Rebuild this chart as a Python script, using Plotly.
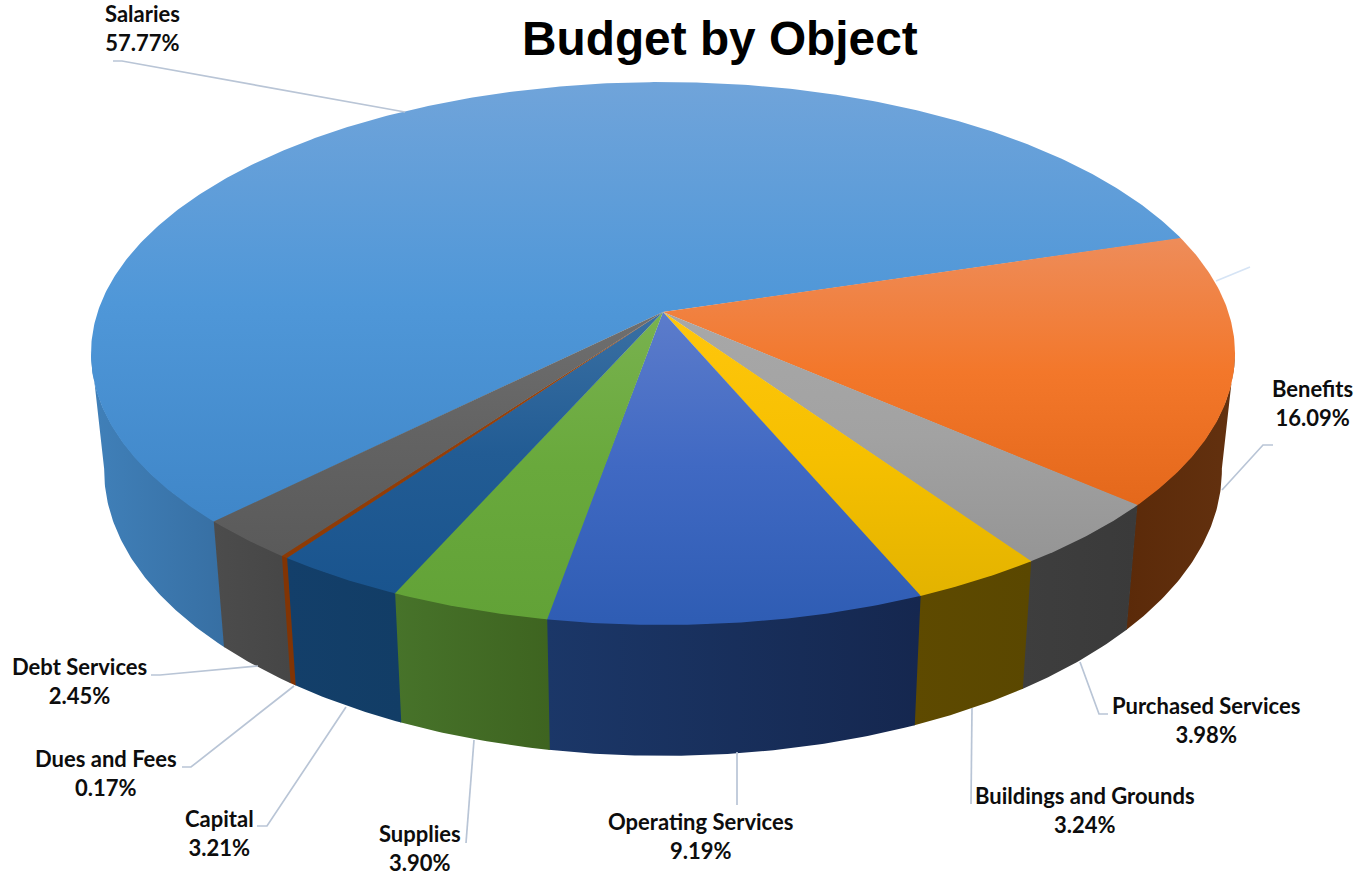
import numpy as np
import plotly.graph_objects as go

# ---- data ----
names = ["Salaries", "Benefits", "Purchased Services", "Buildings and Grounds",
         "Operating Services", "Supplies", "Capital", "Dues and Fees", "Debt Services"]
shares = [57.77, 16.09, 3.98, 3.24, 9.19, 3.90, 3.21, 0.17, 2.45]

# ---- styles ----
top_colors = [["#70a4da", "#4f97d8", "#3f86c8"], ["#ee8c59", "#f3772a", "#e4681b"],
              ["#a8a8a8", "#a2a2a2", "#959595"], ["#ffc60d", "#f6c000", "#e3b300"],
              ["#5c7ccb", "#4069c3", "#2f5db4"], ["#79b24f", "#69a93c", "#62a237"],
              ["#3a70a3", "#225c94", "#19548e"], ["#a04a10", "#963f08", "#8c3a05"],
              ["#6f6f6f", "#636363", "#5a5a5a"]]
top_spans = [(82, 525), (240, 505), (312, 560), (312, 596), (312, 620), (312, 620),
             (312, 595), (312, 556), (312, 555)]
wall_colors = [["#4080b9", "#376fa3"], ["#5b2a09", "#63310f"], ["#3e3e3e", "#3a3a3a"],
               ["#5e4a00", "#5a4700"], ["#1b3768", "#15274f"], ["#47732a", "#3e6420"],
               ["#133f6a", "#123d66"], ["#813404", "#813404"], ["#4c4c4c", "#464646"]]
label_pos = [(142, 28), (1312, 403), (1206, 720), (1085, 810), (700, 836),
             (420, 848), (219, 833), (106, 773), (79, 681)]
leaders = [[(113, 61), (122, 61), (405, 112)],
           [(1222, 490), (1263, 445), (1273, 445)],
           [(1080, 662), (1099, 714), (1108, 714)],
           [(972, 708), (971, 804)],
           [(737, 752), (737, 805)],
           [(474, 740), (466, 843)],
           [(346, 707), (267, 826), (257, 826)],
           [(294, 686), (191, 767), (182, 767)],
           [(258, 666), (160, 675), (151, 675)]]
stray_leader = [(1216, 281), (1250, 267)]

# ---- projection of the tilted disc (pixel coordinates) ----
CX, APEX_Y, RX, RY, PERSP = 663.0, 312.0, 565.3, 265.1, 0.1529
BASE_Y, BASE_KX, BASE_KY = 426.6, 0.977, 1.052
START_DEG = 135.05
LEFT_LIMIT, RIGHT_LIMIT = 171.5, 368.5
SEAM = 0.12


def project(theta_deg, base=False):
    t = np.radians(theta_deg)
    u, v = np.cos(t), np.sin(t)
    w = 1 - PERSP * v
    kx = BASE_KX if base else 1.0
    ky = BASE_KY if base else 1.0
    y0 = BASE_Y if base else APEX_Y
    return CX + kx * RX * u / w, y0 + ky * RY * v / w


fig = go.Figure()
edges = START_DEG + np.concatenate([[0], np.cumsum(shares)]) * 3.6
top_traces = []
for i, name in enumerate(names):
    a, b = edges[i], edges[i + 1] + SEAM
    # outer wall: only the part that faces the viewer
    if a < LEFT_LIMIT:
        lo, hi = a, min(b, LEFT_LIMIT)
    else:
        lo, hi = max(a, RIGHT_LIMIT), b
    ts = np.linspace(lo, hi, max(int((hi - lo) * 2), 6))
    xt, yt = project(ts)
    xb, yb = project(ts[::-1], base=True)
    wx = np.concatenate([xt, xb, xt[:1]])
    wy = np.concatenate([yt - 1, yb, yt[:1] - 1])
    fig.add_trace(go.Scatter(
        x=wx, y=wy, mode="lines", line=dict(width=0), fill="toself",
        fillgradient=dict(type="horizontal", start=float(wx.min()), stop=float(wx.max()),
                          colorscale=[[0, wall_colors[i][0]], [1, wall_colors[i][1]]]),
        hoverinfo="skip", showlegend=False))
    # top face
    ts = np.linspace(a, b, max(int((b - a) * 2), 6))
    xa, ya = project(ts)
    top_traces.append(go.Scatter(
        x=np.concatenate([[CX], xa, [CX]]), y=np.concatenate([[APEX_Y], ya, [APEX_Y]]),
        mode="lines", line=dict(width=0), fill="toself", name=name,
        fillgradient=dict(type="vertical", start=top_spans[i][0], stop=top_spans[i][1],
                          colorscale=[[0, top_colors[i][0]], [0.5, top_colors[i][1]],
                                      [1, top_colors[i][2]]]),
        hoverinfo="text", text=f"{name} {shares[i]:.2f}%", showlegend=False))
fig.add_traces(top_traces)

for pts in leaders:
    fig.add_trace(go.Scatter(x=[p[0] for p in pts], y=[p[1] for p in pts], mode="lines",
                             line=dict(color="#b9c5d6", width=1.7),
                             hoverinfo="skip", showlegend=False))
fig.add_trace(go.Scatter(x=[p[0] for p in stray_leader], y=[p[1] for p in stray_leader],
                         mode="lines", line=dict(color="#d6e4f5", width=1.7),
                         hoverinfo="skip", showlegend=False))

for (lx, ly), name, share in zip(label_pos, names, shares):
    fig.add_annotation(x=lx, y=ly, text=f"{name}<br>{share:.2f}%", showarrow=False,
                       xanchor="center", yanchor="middle", align="center",
                       font=dict(family="Lato", size=22, color="#0d0d0d", weight="bold"))
fig.add_annotation(x=719.5, y=38, text="<b>Budget by Object</b>", showarrow=False,
                   xanchor="center", yanchor="middle",
                   font=dict(family="Liberation Sans", size=47.8, color="#000000"))

fig.update_layout(width=1358, height=875, margin=dict(l=0, r=0, t=0, b=0),
                  paper_bgcolor="white", plot_bgcolor="white", showlegend=False,
                  xaxis=dict(range=[0, 1358], visible=False, fixedrange=True),
                  yaxis=dict(range=[875, 0], visible=False, fixedrange=True))
fig.write_html("out.html", config={"displayModeBar": False},
               post_script="document.body.style.margin='0';document.body.style.overflow='hidden';")
